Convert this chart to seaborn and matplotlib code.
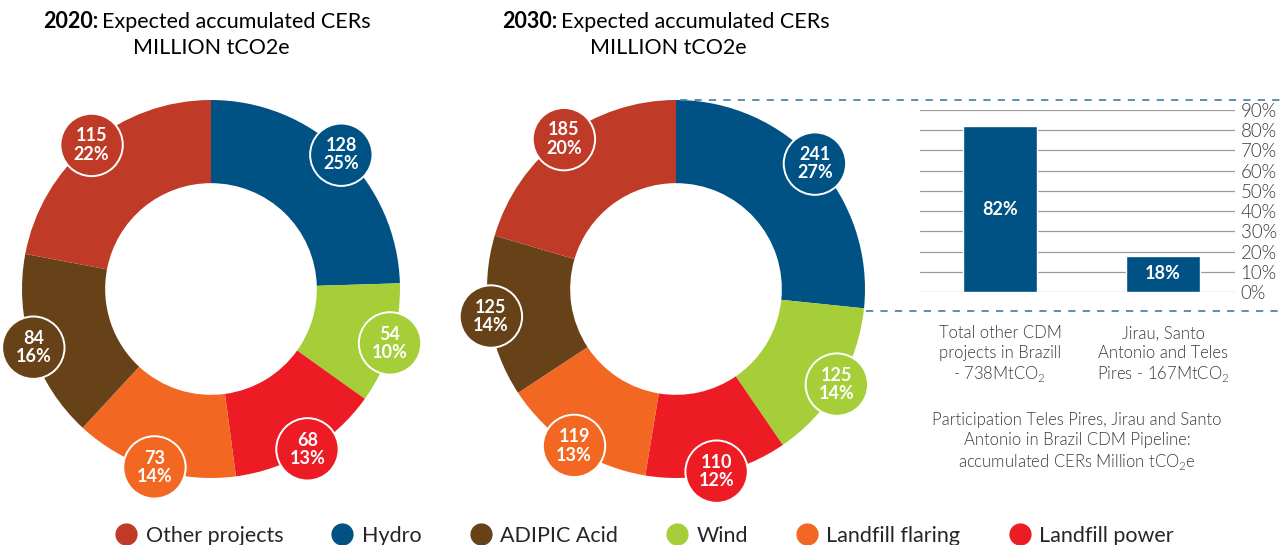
import matplotlib
matplotlib.use("Agg")
import matplotlib.pyplot as plt
from matplotlib.patches import Circle
from matplotlib.lines import Line2D
import seaborn as sns
import numpy as np

# donut data, clockwise from 12 o'clock
segments = ["Hydro", "Wind", "Landfill power", "Landfill flaring", "ADIPIC Acid", "Other projects"]
cers_2020 = [128, 54, 68, 73, 84, 115]
pct_2020 = [25, 10, 13, 14, 16, 22]
cers_2030 = [241, 125, 110, 119, 125, 185]
pct_2030 = [27, 14, 12, 13, 14, 20]

# bar chart data
bar_labels = ["Total other CDM\nprojects in Brazill\n- 738MtCO$_\\mathregular{2}$",
              "Jirau, Santo\nAntonio and Teles\nPires - 167MtCO$_\\mathregular{2}$"]
bar_values = [82, 18]
bar_ticks = list(range(0, 100, 10))

legend_order = ["Other projects", "Hydro", "ADIPIC Acid", "Wind", "Landfill flaring", "Landfill power"]

palette = {
    "Other projects": "#BF3B27",
    "Hydro": "#005284",
    "ADIPIC Acid": "#674218",
    "Wind": "#A6CE39",
    "Landfill flaring": "#F26722",
    "Landfill power": "#ED1C24",
}

sns.set_theme(style="white")
plt.rcParams["font.family"] = ["Lato", "DejaVu Sans"]
plt.rcParams["mathtext.fontset"] = "custom"
plt.rcParams["mathtext.rm"] = "Lato"

W, H = 1282, 545
fig = plt.figure(figsize=(W / 100, H / 100), dpi=100)
LIGHT = 300
GREY = "#3a3a3a"


def px_axes(x0, top, w, h):
    return fig.add_axes([x0 / W, 1 - (top + h) / H, w / W, h / H])


def donut(cx, cy, values, pcts):
    R = 189
    s = 1.3
    ax = px_axes(cx - R * s, cy - R * s, 2 * R * s, 2 * R * s)
    cols = [palette[k] for k in segments]
    ax.pie(values, colors=cols, startangle=90, counterclock=False, radius=1,
           wedgeprops=dict(width=0.44, edgecolor="none"))
    ax.set_xlim(-s, s)
    ax.set_ylim(-s, s)
    ax.axis("off")
    total = sum(values)
    cum = np.cumsum(values)
    for v, c, p, col in zip(values, cum, pcts, cols):
        ang = np.deg2rad(90 - 360 * (c - v / 2) / total)
        x, y = 0.99 * np.cos(ang), 0.99 * np.sin(ang)
        ax.add_patch(Circle((x, y), 0.165, facecolor=col, edgecolor="white",
                            lw=1.4, clip_on=False, zorder=5))
        ax.text(x, y, f"{v}\n{p}%", ha="center", va="center", color="white",
                fontsize=13, fontweight="bold", linespacing=1.1, zorder=6)
    return ax


donut(211, 289, cers_2020, pct_2020)
donut(676, 289, cers_2030, pct_2030)

# titles
for bold, cx, xb in [("2020:", 211, 98), ("2030:", 668, 557)]:
    fig.text(xb / W, 1 - 22 / H, bold, ha="right", va="center", fontsize=15.5,
             fontweight="bold", color="black")
    fig.text((xb + 4) / W, 1 - 22 / H, "Expected accumulated CERs", ha="left",
             va="center", fontsize=15.5, color="black")
    fig.text(cx / W, 1 - 48 / H, "MILLION tCO2e", ha="center", va="center",
             fontsize=15.5, color="black")

# bar chart
axb = px_axes(920, 110, 315, 182)
sns.barplot(x=bar_labels, y=bar_values, ax=axb, color=palette["Hydro"],
            width=0.45, saturation=1)
axb.set_xlim(-0.49, 1.44)
axb.set_ylim(0, 90)
axb.set_yticks(bar_ticks)
axb.set_yticklabels([f"{t}%" for t in bar_ticks])
axb.yaxis.tick_right()
axb.grid(axis="y", color="#9a9a9a", lw=0.9)
axb.set_axisbelow(True)
for sp in axb.spines.values():
    sp.set_visible(False)
axb.tick_params(axis="y", length=0, pad=4, labelsize=13.5, labelcolor=GREY)
axb.tick_params(axis="x", length=0, pad=24, labelsize=12, labelcolor=GREY)
for lab in axb.get_yticklabels() + axb.get_xticklabels():
    lab.set_fontweight(LIGHT)
for lab in axb.get_xticklabels():
    lab.set_linespacing(1.25)
axb.set_xlabel("")
axb.set_ylabel("")
for i, v in enumerate(bar_values):
    axb.text(i, v / 2, f"{v}%", ha="center", va="center", color="white",
             fontsize=13, fontweight="bold")

fig.text(1077 / W, 1 - 442 / H,
         "Participation Teles Pires, Jirau and Santo\nAntonio in Brazil CDM Pipeline:\n"
         "accumulated CERs Million tCO$_\\mathregular{2}$e",
         ha="center", va="center", fontsize=12, fontweight=LIGHT,
         color=GREY, linespacing=1.25)

# dashed connector lines
dash_col = "#4F86AB"
fig.add_artist(Line2D([680 / W, 1], [1 - 100 / H, 1 - 100 / H], transform=fig.transFigure,
                      color=dash_col, lw=1.3, dashes=(4, 4)))
fig.add_artist(Line2D([866 / W, 1], [1 - 311 / H, 1 - 311 / H], transform=fig.transFigure,
                      color=dash_col, lw=1.3, dashes=(4, 4)))

# legend
handles = [Line2D([], [], marker="o", ls="", markersize=16, markerfacecolor=palette[k],
                  markeredgecolor="none") for k in legend_order]
fig.legend(handles, legend_order, loc="center", bbox_to_anchor=(644 / W, 9 / H),
           ncol=6, frameon=False, fontsize=15.5, handletextpad=0.35,
           columnspacing=2.2, handlelength=1.1)

fig.savefig("out.png", dpi=100)
